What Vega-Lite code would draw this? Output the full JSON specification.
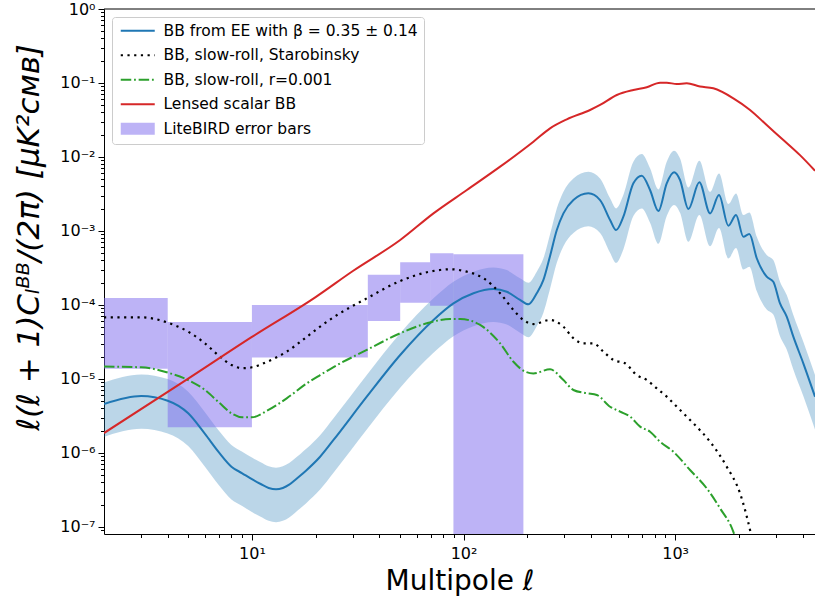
{
  "$schema": "https://vega.github.io/schema/vega-lite/v6.json",
  "autosize": {"type": "none"},
  "padding": {"left": 104, "top": 9, "right": 0, "bottom": 68},
  "width": 711,
  "height": 525,
  "config": {
    "font": "DejaVu Sans",
    "view": {"stroke": null},
    "axis": {"grid": false, "domainColor": "black", "tickColor": "black", "labelColor": "black", "titleColor": "black", "domainWidth": 1, "tickWidth": 1, "labelFont": "DejaVu Sans", "labelFontSize": 16, "titleFont": "DejaVu Sans", "titleFontWeight": "normal", "labelFlush": false, "labelOverlap": false}
  },
  "datasets": {
    "bars": [
      {"l1": 2, "l2": 4, "lo": 1.377e-5, "hi": 1.245e-4, "series": "LiteBIRD error bars"},
      {"l1": 4, "l2": 10, "lo": 2.22e-6, "hi": 5.89e-5, "series": "LiteBIRD error bars"},
      {"l1": 10, "l2": 35.3, "lo": 1.95e-5, "hi": 1.0e-4, "series": "LiteBIRD error bars"},
      {"l1": 35.3, "l2": 50.2, "lo": 6.08e-5, "hi": 2.56e-4, "series": "LiteBIRD error bars"},
      {"l1": 50.2, "l2": 69.5, "lo": 1.07e-4, "hi": 3.77e-4, "series": "LiteBIRD error bars"},
      {"l1": 69.5, "l2": 89.6, "lo": 9.8e-5, "hi": 5.0e-4, "series": "LiteBIRD error bars"},
      {"l1": 89.6, "l2": 191.8, "lo": 1e-9, "hi": 4.84e-4, "series": "LiteBIRD error bars"}
    ],
    "band": [
      {"l": 2, "lo": 1.65e-6, "hi": 9.0e-6}, {"l": 3, "lo": 2.12e-6, "hi": 1.154e-5}, {"l": 4, "lo": 1.83e-6, "hi": 9.98e-6},
      {"l": 5, "lo": 1.24e-6, "hi": 6.74e-6}, {"l": 6, "lo": 6.52e-7, "hi": 3.55e-6}, {"l": 7, "lo": 3.64e-7, "hi": 1.98e-6},
      {"l": 8, "lo": 2.35e-7, "hi": 1.28e-6}, {"l": 9, "lo": 1.92e-7, "hi": 1.04e-6}, {"l": 10, "lo": 1.59e-7, "hi": 8.66e-7},
      {"l": 11, "lo": 1.37e-7, "hi": 7.47e-7}, {"l": 12, "lo": 1.21e-7, "hi": 6.61e-7}, {"l": 13, "lo": 1.16e-7, "hi": 6.33e-7},
      {"l": 14, "lo": 1.21e-7, "hi": 6.61e-7}, {"l": 15, "lo": 1.34e-7, "hi": 7.31e-7}, {"l": 16, "lo": 1.56e-7, "hi": 8.47e-7},
      {"l": 17, "lo": 1.8e-7, "hi": 9.8e-7}, {"l": 18, "lo": 2.08e-7, "hi": 1.13e-6}, {"l": 21, "lo": 3.2e-7, "hi": 1.74e-6},
      {"l": 24.3, "lo": 5.4e-7, "hi": 2.94e-6}, {"l": 34.9, "lo": 2.08e-6, "hi": 1.13e-5}, {"l": 50.2, "lo": 7.6e-6, "hi": 4.14e-5},
      {"l": 72.1, "lo": 2.26e-5, "hi": 1.23e-4}, {"l": 89.6, "lo": 3.78e-5, "hi": 2.06e-4}, {"l": 111.4, "lo": 5.18e-5, "hi": 2.82e-4},
      {"l": 138.4, "lo": 5.9e-5, "hi": 3.21e-4}, {"l": 160.1, "lo": 5.44e-5, "hi": 2.96e-4}, {"l": 184.9, "lo": 4.21e-5, "hi": 2.29e-4},
      {"l": 202.6, "lo": 3.67e-5, "hi": 2.0e-4}, {"l": 221.8, "lo": 5.18e-5, "hi": 2.82e-4}, {"l": 238.5, "lo": 7.85e-5, "hi": 4.27e-4},
      {"l": 256.4, "lo": 1.66e-4, "hi": 9.02e-4}, {"l": 275.9, "lo": 3.71e-4, "hi": 2.02e-3}, {"l": 296.5, "lo": 6.23e-4, "hi": 3.39e-3},
      {"l": 330.5, "lo": 9.43e-4, "hi": 5.14e-3}, {"l": 389, "lo": 1.16e-3, "hi": 6.33e-3}, {"l": 441.8, "lo": 9.43e-4, "hi": 5.14e-3},
      {"l": 492.6, "lo": 5.08e-4, "hi": 2.76e-3}, {"l": 525.9, "lo": 3.71e-4, "hi": 2.02e-3}, {"l": 569.2, "lo": 5.62e-4, "hi": 3.06e-3},
      {"l": 634.7, "lo": 1.59e-3, "hi": 8.64e-3}, {"l": 695.4, "lo": 2.01e-3, "hi": 1.096e-2}, {"l": 761.1, "lo": 1.29e-3, "hi": 7.02e-3},
      {"l": 833.2, "lo": 6.7e-4, "hi": 3.65e-3}, {"l": 912.6, "lo": 1.59e-3, "hi": 8.64e-3}, {"l": 988.1, "lo": 2.24e-3, "hi": 1.217e-2},
      {"l": 1054.6, "lo": 1.76e-3, "hi": 9.58e-3}, {"l": 1154.6, "lo": 7.13e-4, "hi": 3.88e-3}, {"l": 1301, "lo": 1.64e-3, "hi": 8.92e-3},
      {"l": 1462, "lo": 6.23e-4, "hi": 3.39e-3}, {"l": 1612, "lo": 1.1e-3, "hi": 6.0e-3}, {"l": 1784, "lo": 4.25e-4, "hi": 2.31e-3},
      {"l": 1940, "lo": 5.9e-4, "hi": 3.21e-3}, {"l": 2100, "lo": 3.01e-4, "hi": 1.64e-3}, {"l": 2242, "lo": 3.28e-4, "hi": 1.78e-3},
      {"l": 2430, "lo": 1.54e-4, "hi": 8.39e-4}, {"l": 2708, "lo": 8.68e-5, "hi": 4.72e-4}, {"l": 2910, "lo": 7.42e-5, "hi": 4.04e-4},
      {"l": 3130, "lo": 3.78e-5, "hi": 2.06e-4}, {"l": 3367, "lo": 2.5e-5, "hi": 1.36e-4}, {"l": 3618, "lo": 1.34e-5, "hi": 7.31e-5},
      {"l": 4033, "lo": 5.87e-6, "hi": 3.19e-5}, {"l": 4580, "lo": 2.08e-6, "hi": 1.13e-5}
    ],
    "lines": [
      {"series": "BB from EE with β = 0.35 ± 0.14", "l": 2, "C": 4.59e-6},
      {"series": "BB from EE with β = 0.35 ± 0.14", "l": 3, "C": 5.89e-6},
      {"series": "BB from EE with β = 0.35 ± 0.14", "l": 4, "C": 5.09e-6},
      {"series": "BB from EE with β = 0.35 ± 0.14", "l": 5, "C": 3.44e-6},
      {"series": "BB from EE with β = 0.35 ± 0.14", "l": 6, "C": 1.81e-6},
      {"series": "BB from EE with β = 0.35 ± 0.14", "l": 7, "C": 1.01e-6},
      {"series": "BB from EE with β = 0.35 ± 0.14", "l": 8, "C": 6.53e-7},
      {"series": "BB from EE with β = 0.35 ± 0.14", "l": 9, "C": 5.32e-7},
      {"series": "BB from EE with β = 0.35 ± 0.14", "l": 10, "C": 4.42e-7},
      {"series": "BB from EE with β = 0.35 ± 0.14", "l": 11, "C": 3.81e-7},
      {"series": "BB from EE with β = 0.35 ± 0.14", "l": 12, "C": 3.37e-7},
      {"series": "BB from EE with β = 0.35 ± 0.14", "l": 13, "C": 3.23e-7},
      {"series": "BB from EE with β = 0.35 ± 0.14", "l": 14, "C": 3.37e-7},
      {"series": "BB from EE with β = 0.35 ± 0.14", "l": 15, "C": 3.73e-7},
      {"series": "BB from EE with β = 0.35 ± 0.14", "l": 16, "C": 4.32e-7},
      {"series": "BB from EE with β = 0.35 ± 0.14", "l": 17, "C": 5.0e-7},
      {"series": "BB from EE with β = 0.35 ± 0.14", "l": 18, "C": 5.77e-7},
      {"series": "BB from EE with β = 0.35 ± 0.14", "l": 21, "C": 8.9e-7},
      {"series": "BB from EE with β = 0.35 ± 0.14", "l": 24.3, "C": 1.5e-6},
      {"series": "BB from EE with β = 0.35 ± 0.14", "l": 34.9, "C": 5.77e-6},
      {"series": "BB from EE with β = 0.35 ± 0.14", "l": 50.2, "C": 2.11e-5},
      {"series": "BB from EE with β = 0.35 ± 0.14", "l": 72.1, "C": 6.27e-5},
      {"series": "BB from EE with β = 0.35 ± 0.14", "l": 89.6, "C": 1.05e-4},
      {"series": "BB from EE with β = 0.35 ± 0.14", "l": 111.4, "C": 1.44e-4},
      {"series": "BB from EE with β = 0.35 ± 0.14", "l": 138.4, "C": 1.64e-4},
      {"series": "BB from EE with β = 0.35 ± 0.14", "l": 160.1, "C": 1.51e-4},
      {"series": "BB from EE with β = 0.35 ± 0.14", "l": 184.9, "C": 1.17e-4},
      {"series": "BB from EE with β = 0.35 ± 0.14", "l": 202.6, "C": 1.02e-4},
      {"series": "BB from EE with β = 0.35 ± 0.14", "l": 221.8, "C": 1.44e-4},
      {"series": "BB from EE with β = 0.35 ± 0.14", "l": 238.5, "C": 2.18e-4},
      {"series": "BB from EE with β = 0.35 ± 0.14", "l": 256.4, "C": 4.6e-4},
      {"series": "BB from EE with β = 0.35 ± 0.14", "l": 275.9, "C": 1.03e-3},
      {"series": "BB from EE with β = 0.35 ± 0.14", "l": 296.5, "C": 1.73e-3},
      {"series": "BB from EE with β = 0.35 ± 0.14", "l": 330.5, "C": 2.62e-3},
      {"series": "BB from EE with β = 0.35 ± 0.14", "l": 389, "C": 3.23e-3},
      {"series": "BB from EE with β = 0.35 ± 0.14", "l": 441.8, "C": 2.62e-3},
      {"series": "BB from EE with β = 0.35 ± 0.14", "l": 492.6, "C": 1.41e-3},
      {"series": "BB from EE with β = 0.35 ± 0.14", "l": 525.9, "C": 1.03e-3},
      {"series": "BB from EE with β = 0.35 ± 0.14", "l": 569.2, "C": 1.56e-3},
      {"series": "BB from EE with β = 0.35 ± 0.14", "l": 634.7, "C": 4.41e-3},
      {"series": "BB from EE with β = 0.35 ± 0.14", "l": 695.4, "C": 5.59e-3},
      {"series": "BB from EE with β = 0.35 ± 0.14", "l": 761.1, "C": 3.58e-3},
      {"series": "BB from EE with β = 0.35 ± 0.14", "l": 833.2, "C": 1.86e-3},
      {"series": "BB from EE with β = 0.35 ± 0.14", "l": 912.6, "C": 4.41e-3},
      {"series": "BB from EE with β = 0.35 ± 0.14", "l": 988.1, "C": 6.21e-3},
      {"series": "BB from EE with β = 0.35 ± 0.14", "l": 1054.6, "C": 4.89e-3},
      {"series": "BB from EE with β = 0.35 ± 0.14", "l": 1154.6, "C": 1.98e-3},
      {"series": "BB from EE with β = 0.35 ± 0.14", "l": 1301, "C": 4.55e-3},
      {"series": "BB from EE with β = 0.35 ± 0.14", "l": 1462, "C": 1.73e-3},
      {"series": "BB from EE with β = 0.35 ± 0.14", "l": 1612, "C": 3.06e-3},
      {"series": "BB from EE with β = 0.35 ± 0.14", "l": 1784, "C": 1.18e-3},
      {"series": "BB from EE with β = 0.35 ± 0.14", "l": 1940, "C": 1.64e-3},
      {"series": "BB from EE with β = 0.35 ± 0.14", "l": 2100, "C": 8.37e-4},
      {"series": "BB from EE with β = 0.35 ± 0.14", "l": 2242, "C": 9.1e-4},
      {"series": "BB from EE with β = 0.35 ± 0.14", "l": 2430, "C": 4.28e-4},
      {"series": "BB from EE with β = 0.35 ± 0.14", "l": 2708, "C": 2.41e-4},
      {"series": "BB from EE with β = 0.35 ± 0.14", "l": 2910, "C": 2.06e-4},
      {"series": "BB from EE with β = 0.35 ± 0.14", "l": 3130, "C": 1.05e-4},
      {"series": "BB from EE with β = 0.35 ± 0.14", "l": 3367, "C": 6.95e-5},
      {"series": "BB from EE with β = 0.35 ± 0.14", "l": 3618, "C": 3.73e-5},
      {"series": "BB from EE with β = 0.35 ± 0.14", "l": 4033, "C": 1.63e-5},
      {"series": "BB from EE with β = 0.35 ± 0.14", "l": 4580, "C": 5.77e-6},
      {"series": "BB, slow-roll, Starobinsky", "l": 2, "C": 6.82e-5},
      {"series": "BB, slow-roll, Starobinsky", "l": 3, "C": 6.82e-5},
      {"series": "BB, slow-roll, Starobinsky", "l": 4, "C": 5.77e-5},
      {"series": "BB, slow-roll, Starobinsky", "l": 5, "C": 4.36e-5},
      {"series": "BB, slow-roll, Starobinsky", "l": 6, "C": 3.03e-5},
      {"series": "BB, slow-roll, Starobinsky", "l": 7, "C": 2.05e-5},
      {"series": "BB, slow-roll, Starobinsky", "l": 8, "C": 1.55e-5},
      {"series": "BB, slow-roll, Starobinsky", "l": 9, "C": 1.4e-5},
      {"series": "BB, slow-roll, Starobinsky", "l": 10, "C": 1.44e-5},
      {"series": "BB, slow-roll, Starobinsky", "l": 11.8, "C": 1.71e-5},
      {"series": "BB, slow-roll, Starobinsky", "l": 14.6, "C": 2.34e-5},
      {"series": "BB, slow-roll, Starobinsky", "l": 18.2, "C": 3.73e-5},
      {"series": "BB, slow-roll, Starobinsky", "l": 21, "C": 5.09e-5},
      {"series": "BB, slow-roll, Starobinsky", "l": 24.3, "C": 6.82e-5},
      {"series": "BB, slow-roll, Starobinsky", "l": 34.9, "C": 1.23e-4},
      {"series": "BB, slow-roll, Starobinsky", "l": 50.2, "C": 2.11e-4},
      {"series": "BB, slow-roll, Starobinsky", "l": 67.1, "C": 2.77e-4},
      {"series": "BB, slow-roll, Starobinsky", "l": 86.4, "C": 3.04e-4},
      {"series": "BB, slow-roll, Starobinsky", "l": 103.7, "C": 2.82e-4},
      {"series": "BB, slow-roll, Starobinsky", "l": 124.2, "C": 2.3e-4},
      {"series": "BB, slow-roll, Starobinsky", "l": 148.9, "C": 1.44e-4},
      {"series": "BB, slow-roll, Starobinsky", "l": 172.1, "C": 8.55e-5},
      {"series": "BB, slow-roll, Starobinsky", "l": 191.8, "C": 6.27e-5},
      {"series": "BB, slow-roll, Starobinsky", "l": 213.9, "C": 5.53e-5},
      {"series": "BB, slow-roll, Starobinsky", "l": 256.4, "C": 6.27e-5},
      {"series": "BB, slow-roll, Starobinsky", "l": 296.5, "C": 5.09e-5},
      {"series": "BB, slow-roll, Starobinsky", "l": 330.5, "C": 3.55e-5},
      {"series": "BB, slow-roll, Starobinsky", "l": 368.4, "C": 3.03e-5},
      {"series": "BB, slow-roll, Starobinsky", "l": 410.8, "C": 3.03e-5},
      {"series": "BB, slow-roll, Starobinsky", "l": 458.1, "C": 2.34e-5},
      {"series": "BB, slow-roll, Starobinsky", "l": 510.7, "C": 1.81e-5},
      {"series": "BB, slow-roll, Starobinsky", "l": 579.9, "C": 1.63e-5},
      {"series": "BB, slow-roll, Starobinsky", "l": 658.5, "C": 1.13e-5},
      {"series": "BB, slow-roll, Starobinsky", "l": 734.3, "C": 9.68e-6},
      {"series": "BB, slow-roll, Starobinsky", "l": 818.8, "C": 7.48e-6},
      {"series": "BB, slow-roll, Starobinsky", "l": 912.6, "C": 5.77e-6},
      {"series": "BB, slow-roll, Starobinsky", "l": 1035, "C": 4.02e-6},
      {"series": "BB, slow-roll, Starobinsky", "l": 1219, "C": 2.52e-6},
      {"series": "BB, slow-roll, Starobinsky", "l": 1462, "C": 1.42e-6},
      {"series": "BB, slow-roll, Starobinsky", "l": 1753, "C": 6.53e-7},
      {"series": "BB, slow-roll, Starobinsky", "l": 2026, "C": 2.85e-7},
      {"series": "BB, slow-roll, Starobinsky", "l": 2259, "C": 9.1e-8},
      {"series": "BB, slow-roll, Starobinsky", "l": 2400, "C": 4e-8},
      {"series": "BB, slow-roll, r=0.001", "l": 2, "C": 1.47e-5},
      {"series": "BB, slow-roll, r=0.001", "l": 3, "C": 1.44e-5},
      {"series": "BB, slow-roll, r=0.001", "l": 4, "C": 1.22e-5},
      {"series": "BB, slow-roll, r=0.001", "l": 5, "C": 9.68e-6},
      {"series": "BB, slow-roll, r=0.001", "l": 6, "C": 7.1e-6},
      {"series": "BB, slow-roll, r=0.001", "l": 7, "C": 4.79e-6},
      {"series": "BB, slow-roll, r=0.001", "l": 8, "C": 3.44e-6},
      {"series": "BB, slow-roll, r=0.001", "l": 9, "C": 3.03e-6},
      {"series": "BB, slow-roll, r=0.001", "l": 10, "C": 3.03e-6},
      {"series": "BB, slow-roll, r=0.001", "l": 11.8, "C": 3.73e-6},
      {"series": "BB, slow-roll, r=0.001", "l": 14.6, "C": 5.48e-6},
      {"series": "BB, slow-roll, r=0.001", "l": 18.2, "C": 8.75e-6},
      {"series": "BB, slow-roll, r=0.001", "l": 21, "C": 1.13e-5},
      {"series": "BB, slow-roll, r=0.001", "l": 24.3, "C": 1.45e-5},
      {"series": "BB, slow-roll, r=0.001", "l": 34.9, "C": 2.47e-5},
      {"series": "BB, slow-roll, r=0.001", "l": 50.2, "C": 4.15e-5},
      {"series": "BB, slow-roll, r=0.001", "l": 67.1, "C": 5.66e-5},
      {"series": "BB, slow-roll, r=0.001", "l": 86.4, "C": 6.47e-5},
      {"series": "BB, slow-roll, r=0.001", "l": 96.4, "C": 6.47e-5},
      {"series": "BB, slow-roll, r=0.001", "l": 119.8, "C": 5.37e-5},
      {"series": "BB, slow-roll, r=0.001", "l": 148.9, "C": 3.03e-5},
      {"series": "BB, slow-roll, r=0.001", "l": 172.1, "C": 1.71e-5},
      {"series": "BB, slow-roll, r=0.001", "l": 195.4, "C": 1.26e-5},
      {"series": "BB, slow-roll, r=0.001", "l": 213.9, "C": 1.19e-5},
      {"series": "BB, slow-roll, r=0.001", "l": 256.4, "C": 1.35e-5},
      {"series": "BB, slow-roll, r=0.001", "l": 296.5, "C": 9.68e-6},
      {"series": "BB, slow-roll, r=0.001", "l": 330.5, "C": 7.1e-6},
      {"series": "BB, slow-roll, r=0.001", "l": 382.3, "C": 6.41e-6},
      {"series": "BB, slow-roll, r=0.001", "l": 426.3, "C": 6.08e-6},
      {"series": "BB, slow-roll, r=0.001", "l": 492.6, "C": 4.22e-6},
      {"series": "BB, slow-roll, r=0.001", "l": 549.4, "C": 3.62e-6},
      {"series": "BB, slow-roll, r=0.001", "l": 612.4, "C": 3.1e-6},
      {"series": "BB, slow-roll, r=0.001", "l": 682.9, "C": 2.27e-6},
      {"series": "BB, slow-roll, r=0.001", "l": 761.1, "C": 1.94e-6},
      {"series": "BB, slow-roll, r=0.001", "l": 848.7, "C": 1.42e-6},
      {"series": "BB, slow-roll, r=0.001", "l": 980.6, "C": 1.04e-6},
      {"series": "BB, slow-roll, r=0.001", "l": 1176, "C": 5.89e-7},
      {"series": "BB, slow-roll, r=0.001", "l": 1410, "C": 3.33e-7},
      {"series": "BB, slow-roll, r=0.001", "l": 1630, "C": 1.79e-7},
      {"series": "BB, slow-roll, r=0.001", "l": 1884, "C": 8.6e-8},
      {"series": "BB, slow-roll, r=0.001", "l": 2000, "C": 5e-8},
      {"series": "Lensed scalar BB", "l": 2, "C": 1.86e-6},
      {"series": "Lensed scalar BB", "l": 5, "C": 1.01e-5},
      {"series": "Lensed scalar BB", "l": 10, "C": 3.7e-5},
      {"series": "Lensed scalar BB", "l": 20, "C": 1.28e-4},
      {"series": "Lensed scalar BB", "l": 30, "C": 2.88e-4},
      {"series": "Lensed scalar BB", "l": 50.2, "C": 7.55e-4},
      {"series": "Lensed scalar BB", "l": 72.1, "C": 1.73e-3},
      {"series": "Lensed scalar BB", "l": 103.7, "C": 3.58e-3},
      {"series": "Lensed scalar BB", "l": 148.9, "C": 7.4e-3},
      {"series": "Lensed scalar BB", "l": 213.9, "C": 1.61e-2},
      {"series": "Lensed scalar BB", "l": 256.4, "C": 2.44e-2},
      {"series": "Lensed scalar BB", "l": 307.6, "C": 3.23e-2},
      {"series": "Lensed scalar BB", "l": 396.3, "C": 4.32e-2},
      {"series": "Lensed scalar BB", "l": 441.8, "C": 5.05e-2},
      {"series": "Lensed scalar BB", "l": 530, "C": 6.89e-2},
      {"series": "Lensed scalar BB", "l": 634.7, "C": 8.04e-2},
      {"series": "Lensed scalar BB", "l": 734.3, "C": 8.74e-2},
      {"series": "Lensed scalar BB", "l": 848.7, "C": 0.101},
      {"series": "Lensed scalar BB", "l": 912.6, "C": 0.101},
      {"series": "Lensed scalar BB", "l": 1017.6, "C": 0.0968},
      {"series": "Lensed scalar BB", "l": 1134, "C": 0.099},
      {"series": "Lensed scalar BB", "l": 1311, "C": 0.0897},
      {"series": "Lensed scalar BB", "l": 1515, "C": 0.0847},
      {"series": "Lensed scalar BB", "l": 1884, "C": 0.0621},
      {"series": "Lensed scalar BB", "l": 2259, "C": 0.0432},
      {"series": "Lensed scalar BB", "l": 2708, "C": 0.027},
      {"series": "Lensed scalar BB", "l": 3245, "C": 0.017},
      {"series": "Lensed scalar BB", "l": 3890, "C": 0.0106},
      {"series": "Lensed scalar BB", "l": 4580, "C": 6.53e-3}
    ]
  },
  "resolve": {"axis": {"x": "independent", "y": "independent"}},
  "layer": [
    {
      "data": {"name": "band"},
      "mark": {"type": "area", "color": "#1f77b4", "opacity": 0.3, "interpolate": "monotone", "clip": true},
      "encoding": {
        "x": {"field": "l", "type": "quantitative", "scale": {"type": "log", "domain": [2, 4580], "nice": false}, "axis": {"orient": "bottom", "values": [3,4,5,6,7,8,9,20,30,40,50,60,70,80,90,200,300,400,500,600,700,800,900,2000,3000,4000], "labels": false, "domain": false, "tickSize": 3.5, "title": null}},
        "y": {"field": "lo", "type": "quantitative", "scale": {"type": "log", "domain": [8.04e-8, 1], "nice": false}, "axis": {"orient": "left", "values": [9e-8,2e-7,3e-7,4e-7,5e-7,6e-7,7e-7,8e-7,9e-7,2e-6,3e-6,4e-6,5e-6,6e-6,7e-6,8e-6,9e-6,2e-5,3e-5,4e-5,5e-5,6e-5,7e-5,8e-5,9e-5,2e-4,3e-4,4e-4,5e-4,6e-4,7e-4,8e-4,9e-4,2e-3,3e-3,4e-3,5e-3,6e-3,7e-3,8e-3,9e-3,0.02,0.03,0.04,0.05,0.06,0.07,0.08,0.09,0.2,0.3,0.4,0.5,0.6,0.7,0.8,0.9], "labels": false, "domain": false, "tickSize": 3.5, "title": null}},
        "y2": {"field": "hi"}
      }
    },
    {
      "data": {"name": "bars"},
      "mark": {"type": "rect", "opacity": 0.5, "clip": true},
      "encoding": {
        "x": {"field": "l1", "type": "quantitative", "axis": {"orient": "bottom", "values": [10, 100, 1000], "tickSize": 6, "labelPadding": 5, "labelExpr": "'10' + ['⁰','¹','²','³','⁴'][round(log(datum.value)/LN10)]", "title": "Multipole ℓ", "titleFontSize": 28, "titlePadding": 6}},
        "x2": {"field": "l2"},
        "y": {"field": "lo", "type": "quantitative", "axis": {"orient": "left", "values": [1e-7, 1e-6, 1e-5, 1e-4, 1e-3, 1e-2, 1e-1, 1], "tickSize": 6, "labelPadding": 3, "labelExpr": "'10' + (round(log(datum.value)/LN10) < 0 ? '⁻' : '') + ['⁰','¹','²','³','⁴','⁵','⁶','⁷','⁸','⁹'][abs(round(log(datum.value)/LN10))]", "title": "ℓ(ℓ + 1)Cₗᴮᴮ/(2π) [μK²ᴄᴍʙ]", "titleFontSize": 31, "titleFontStyle": "italic", "titlePadding": 14, "titleY": 228}},
        "y2": {"field": "hi"},
        "color": {
          "field": "series", "type": "nominal",
          "scale": {"domain": ["BB from EE with β = 0.35 ± 0.14", "BB, slow-roll, Starobinsky", "BB, slow-roll, r=0.001", "Lensed scalar BB", "LiteBIRD error bars"], "range": ["#1f77b4", "#000000", "#2ca02c", "#d62728", "#7b68ee"]},
          "legend": {
            "title": null, "orient": "top-left", "offset": 8, "padding": 6, "rowPadding": 7.5,
            "symbolSize": 100, "labelOffset": 30, "labelLimit": 400, "labelFontSize": 15.5, "labelColor": "black", "labelFont": "DejaVu Sans",
            "strokeColor": "#cccccc", "fillColor": "rgba(255,255,255,0.8)", "cornerRadius": 3,
            "symbolType": "M-1,0H5.8", "symbolStrokeWidth": 2, "symbolOpacity": 1,
            "encode": {"symbols": {
              "enter": {
                "strokeWidth": {"signal": "datum.value === 'LiteBIRD error bars' ? 0 : 2"},
                "strokeOpacity": {"signal": "datum.value === 'LiteBIRD error bars' ? 0 : 1"},
                "fillOpacity": {"signal": "datum.value === 'LiteBIRD error bars' ? 0.5 : 1"},
                "strokeDash": {"signal": "datum.value === 'BB, slow-roll, Starobinsky' ? [2.2, 4.5] : (datum.value === 'BB, slow-roll, r=0.001' ? [10.5, 2.8, 1.8, 2.8] : [1, 0])"}
              },
              "update": {
              "shape": {"signal": "datum.value === 'LiteBIRD error bars' ? 'M-1,-1.2H5.8V1.2H-1Z' : 'M-1,0H5.8'"},
              "fillOpacity": {"signal": "datum.value === 'LiteBIRD error bars' ? 0.5 : 1"},
              "strokeOpacity": {"signal": "datum.value === 'LiteBIRD error bars' ? 0 : 1"},
              "strokeWidth": {"signal": "datum.value === 'LiteBIRD error bars' ? 0 : 2"},
              "strokeDash": {"signal": "datum.value === 'BB, slow-roll, Starobinsky' ? [2.2, 4.5] : (datum.value === 'BB, slow-roll, r=0.001' ? [10.5, 2.8, 1.8, 2.8] : [1, 0])"}
            }}}
          }
        }
      }
    },
    {
      "data": {"name": "lines"},
      "transform": [{"filter": "datum.series === 'BB from EE with β = 0.35 ± 0.14'"}],
      "mark": {"type": "line", "strokeWidth": 2, "interpolate": "monotone", "clip": true},
      "encoding": {
        "x": {"field": "l", "type": "quantitative", "axis": null},
        "y": {"field": "C", "type": "quantitative", "axis": null},
        "color": {"field": "series", "type": "nominal"}
      }
    },
    {
      "data": {"name": "lines"},
      "transform": [{"filter": "datum.series === 'BB, slow-roll, Starobinsky'"}],
      "mark": {"type": "line", "strokeWidth": 2.2, "strokeDash": [2.2, 4.5], "interpolate": "monotone", "clip": true},
      "encoding": {
        "x": {"field": "l", "type": "quantitative", "axis": null},
        "y": {"field": "C", "type": "quantitative", "axis": null},
        "color": {"field": "series", "type": "nominal"}
      }
    },
    {
      "data": {"name": "lines"},
      "transform": [{"filter": "datum.series === 'BB, slow-roll, r=0.001'"}],
      "mark": {"type": "line", "strokeWidth": 2, "strokeDash": [10.5, 2.8, 1.8, 2.8], "interpolate": "monotone", "clip": true},
      "encoding": {
        "x": {"field": "l", "type": "quantitative", "axis": null},
        "y": {"field": "C", "type": "quantitative", "axis": null},
        "color": {"field": "series", "type": "nominal"}
      }
    },
    {
      "data": {"name": "lines"},
      "transform": [{"filter": "datum.series === 'Lensed scalar BB'"}],
      "mark": {"type": "line", "strokeWidth": 2, "interpolate": "monotone", "clip": true},
      "encoding": {
        "x": {"field": "l", "type": "quantitative", "axis": null},
        "y": {"field": "C", "type": "quantitative", "axis": null},
        "color": {"field": "series", "type": "nominal"}
      }
    },
    {
      "data": {"values": [{"edge": "top"}]},
      "mark": {"type": "rule", "color": "black", "strokeWidth": 1},
      "encoding": {
        "y": {"datum": 1, "type": "quantitative", "axis": null}
      }
    }
  ]
}
